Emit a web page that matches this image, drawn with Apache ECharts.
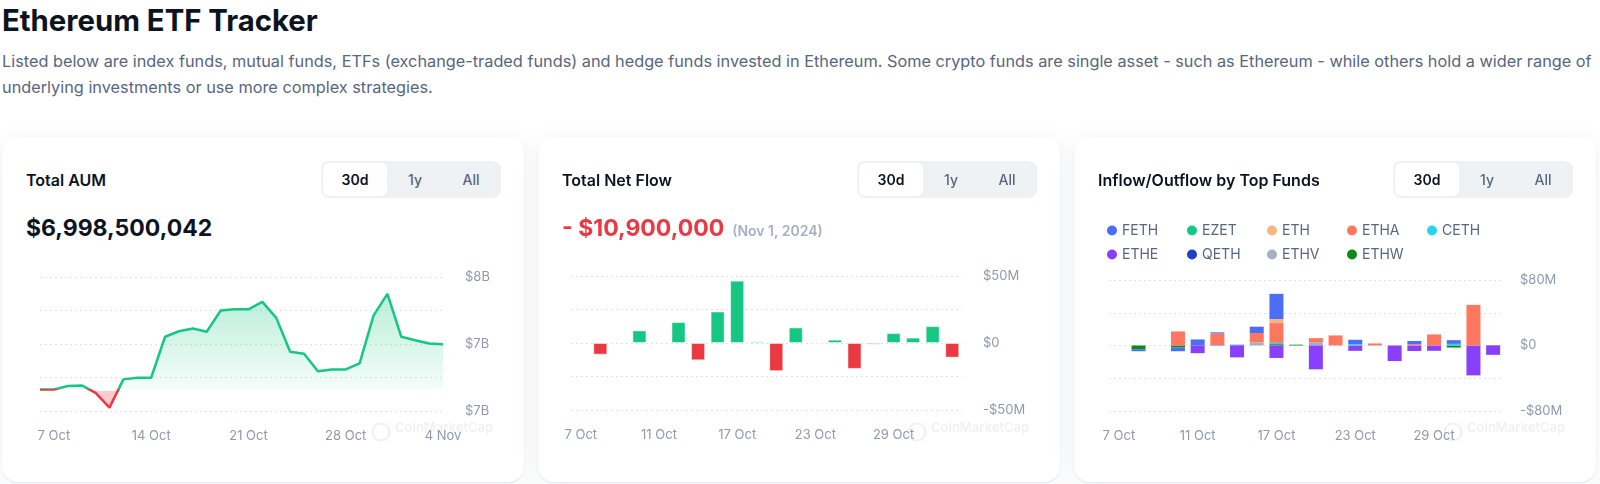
<!DOCTYPE html>
<html>
<head>
<meta charset="utf-8">
<title>Ethereum ETF Tracker</title>
<script src="https://cdn.jsdelivr.net/npm/echarts@6.0.0/dist/echarts.min.js"></script>
<style>
  body { margin: 0; width: 1600px; height: 484px; overflow: hidden; background: #fff; position: relative;
         font-family: Inter, "Noto Sans", sans-serif; color: #0d1421; }
  h1 { position: absolute; left: 2px; top: 2px; margin: 0; font-size: 29.3px; font-weight: 700; line-height: 38px; }
  .desc { position: absolute; left: 2px; top: 48px; margin: 0; font-size: 16.3px; line-height: 26px; color: #58667e; white-space: nowrap; }
  .card { position: absolute; top: 137px; width: 522px; height: 345px; background: #fff; border-radius: 16px;
          box-shadow: 0 1px 2px rgba(88, 102, 126, 0.12), 0 4px 24px rgba(88, 102, 126, 0.08); }
  .card-title { position: absolute; left: 24px; top: 32px; font-size: 16px; font-weight: 600; line-height: 22px; }
  .tabs { position: absolute; left: 319px; top: 24px; width: 176px; height: 33px; padding: 2px; background: #eff2f5;
          border-radius: 8px; display: flex; }
  .tabs span { width: 56px; text-align: center; line-height: 33px; font-size: 14px; font-weight: 500; color: #58667e; }
  .tabs span.on { width: 64px; background: #fff; border-radius: 6px; color: #0d1421; font-weight: 600; }
  .big { position: absolute; left: 24px; top: 76px; font-size: 23px; font-weight: 700; line-height: 30px; white-space: nowrap; }
  .big.neg { color: #ea3943; }
  .big small { font-size: 14px; font-weight: 600; color: #a6b0c3; margin-left: 8px; }
  .chart { position: absolute; left: 0; top: 80px; width: 522px; height: 265px; }
</style>
</head>
<body>
<h1>Ethereum ETF Tracker</h1>
<p class="desc">Listed below are index funds, mutual funds, ETFs (exchange-traded funds) and hedge funds invested in Ethereum. Some crypto funds are single asset - such as Ethereum - while others hold a wider range of<br>underlying investments or use more complex strategies.</p>

<div class="card" style="left: 2px;">
  <div class="card-title">Total AUM</div>
  <div class="tabs"><span class="on">30d</span><span>1y</span><span>All</span></div>
  <div class="big">$6,998,500,042</div>
  <div class="chart" id="aumChart"></div>
</div>

<div class="card" style="left: 538px;">
  <div class="card-title">Total Net Flow</div>
  <div class="tabs"><span class="on">30d</span><span>1y</span><span>All</span></div>
  <div class="big neg">- $10,900,000<small>(Nov 1, 2024)</small></div>
  <div class="chart" id="flowChart"></div>
</div>

<div class="card" style="left: 1074px;">
  <div class="card-title">Inflow/Outflow by Top Funds</div>
  <div class="tabs"><span class="on">30d</span><span>1y</span><span>All</span></div>
  <div class="chart" id="fundChart"></div>
</div>

<script>
// total AUM, one point a day (billions USD)
var aumDates = ['6 Oct', '7 Oct', '8 Oct', '9 Oct', '10 Oct', '11 Oct', '12 Oct', '13 Oct', '14 Oct', '15 Oct',
    '16 Oct', '17 Oct', '18 Oct', '19 Oct', '20 Oct', '21 Oct', '22 Oct', '23 Oct', '24 Oct', '25 Oct',
    '26 Oct', '27 Oct', '28 Oct', '29 Oct', '30 Oct', '31 Oct', '1 Nov', '2 Nov', '3 Nov', '4 Nov'];
var aumValues = [6.661, 6.661, 6.686, 6.691, 6.636, 6.525, 6.736, 6.748, 6.748, 7.054,
    7.095, 7.115, 7.091, 7.250, 7.259, 7.259, 7.314, 7.195, 6.942, 6.927,
    6.797, 6.810, 6.810, 6.855, 7.212, 7.374, 7.054, 7.028, 7.004, 6.9985];
var aumTicks = [6.5, 7, 7.5];

// trading days used by the two flow charts
var flowDates = ['7 Oct', '8 Oct', '9 Oct', '10 Oct', '11 Oct', '14 Oct', '15 Oct', '16 Oct', '17 Oct', '18 Oct',
    '21 Oct', '22 Oct', '23 Oct', '24 Oct', '25 Oct', '28 Oct', '29 Oct', '30 Oct', '31 Oct', '1 Nov'];
// total net flow (millions USD)
var netFlow = [null, -8.7, null, 9.4, null, 15.6, -12.9, 23.5, 46.5, 1.2,
    -21.0, 11.6, 0.6, 2.5, -19.3, -1.2, 7.4, 4.0, 12.6, -10.9];
var flowTicks = [-50, 0, 50];

// flows by fund (millions USD)
var fundNames = ['FETH', 'EZET', 'ETH', 'ETHA', 'CETH', 'ETHE', 'QETH', 'ETHV', 'ETHW'];
var feth = [null, -2.5, null, -4.5, 7.4, 1.2, 1.0, 7.8, 30.8, null, null, null, 5.5, null, null, 4.0, null, 4.5, null, 0.5];
var ezet = [null, null, null, null, null, null, null, null, null, null, null, null, null, null, null, null, null, null, null, null];
var eth = [null, null, null, null, null, null, null, null, 4.9, null, null, null, null, null, null, null, null, null, null, null];
var etha = [null, null, null, 17.2, null, 14.5, null, 11.5, 24.2, null, 4.9, 12.3, null, 2.5, null, 1.5, 13.5, null, 49.6, null];
var ceth = [null, null, null, null, null, null, null, null, 1.6, null, null, null, 1.5, null, null, null, null, 2.0, null, null];
var ethe = [null, null, null, null, -9.4, null, -14.5, null, -15.2, null, -29.1, null, -6.5, null, -19.0, -6.7, -6.5, null, -36.5, -11.4];
var qeth = [null, null, null, null, null, 0.4, null, null, null, null, null, null, null, null, null, null, null, null, null, null];
var ethv = [null, null, null, null, null, null, null, 3.7, null, null, 4.1, null, null, null, null, null, null, null, null, null];
var ethw = [null, -4.5, null, -2.5, null, null, null, null, 1.6, 1.0, null, null, null, null, null, null, null, -2.5, null, null];
var fundTicks = [-80, 0, 80];

var GREEN = '#16c784';
var RED = '#ea3943';
var LABEL = '#8f99ac';
var GRID = '#dfe3e9';
var fundColors = {
    FETH: '#4b6ef5', EZET: '#16c784', ETH: '#f7b680', ETHA: '#ff775f', CETH: '#22d6ee',
    ETHE: '#8a3ffc', QETH: '#1f3fcf', ETHV: '#a6b0c3', ETHW: '#0a8a16'
};

function money(v, unit) {
    if (v === 0) {
        return '$0';
    }
    return (v < 0 ? '-' : '') + '$' + Math.abs(v) + unit;
}

function watermark() {
    return [
        { type: 'circle', left: 368, top: 204, shape: { r: 8.5 }, style: { fill: 'none', stroke: '#eff1f4', lineWidth: 2 } },
        { type: 'text', left: 393, top: 205, style: { text: 'CoinMarketCap', fill: '#eff1f4', font: '600 13px Inter' } }
    ];
}

function xAxisOf(dates, gap, every) {
    return {
        type: 'category',
        data: dates,
        boundaryGap: gap,
        axisLine: { show: false },
        axisTick: { show: false },
        splitLine: { show: false },
        axisLabel: {
            color: LABEL,
            fontSize: 13,
            margin: 19,
            interval: every
        }
    };
}

function yAxisOf(min, max, step, ticks, unit, gap) {
    return {
        type: 'value',
        position: 'right',
        min: min,
        max: max,
        interval: step,
        axisLine: { show: false },
        axisTick: { show: false },
        splitLine: { lineStyle: { color: GRID, type: [2, 3], width: 1 } },
        axisLabel: {
            color: LABEL,
            fontSize: 13,
            margin: gap,
            formatter: function (v) {
                if (ticks.indexOf(v) < 0) {
                    return '';
                }
                return unit === 'B' ? '$' + Math.round(v) + 'B' : money(v, unit);
            }
        }
    };
}

function aumOption() {
    var base = aumValues[0];
    var high = Math.max.apply(null, aumValues);
    var low = Math.min.apply(null, aumValues);
    // where the start value falls inside the filled area, top to bottom
    var cut = (high - base) / (high - low) + 0.01;
    return {
        animation: false,
        textStyle: { fontFamily: 'Inter' },
        grid: { left: 38, top: 60, width: 403, height: 134 },
        xAxis: xAxisOf(aumDates, false, function (i) { return (i - 1) % 7 === 0; }),
        yAxis: yAxisOf(6.5, 7.5, 0.25, aumTicks, 'B', 22),
        visualMap: {
            show: false,
            type: 'piecewise',
            seriesIndex: 0,
            dimension: 1,
            pieces: [{ gte: 6.5, lt: base, color: RED }, { gte: base, lte: 7.5, color: GREEN }]
        },
        series: [{
            type: 'line',
            data: aumValues,
            showSymbol: false,
            lineStyle: { width: 2.5 },
            areaStyle: {
                origin: base,
                opacity: 1,
                color: new echarts.graphic.LinearGradient(0, 0, 0, 1, [
                    { offset: 0, color: 'rgba(22,199,132,0.30)' },
                    { offset: cut, color: 'rgba(22,199,132,0.04)' },
                    { offset: cut, color: 'rgba(234,57,67,0.26)' },
                    { offset: 1, color: 'rgba(234,57,67,0.26)' }
                ])
            }
        }],
        graphic: watermark()
    };
}

function flowOption() {
    return {
        animation: false,
        textStyle: { fontFamily: 'Inter' },
        grid: { left: 33, top: 59, width: 391, height: 134 },
        xAxis: xAxisOf(flowDates, true, function (i) { return i % 4 === 0; }),
        yAxis: yAxisOf(-50, 50, 25, flowTicks, 'M', 21),
        series: [{
            type: 'bar',
            data: netFlow,
            barWidth: 14,
            itemStyle: {
                color: function (p) { return p.value < 0 ? RED : GREEN; },
                borderColor: 'rgba(255,255,255,0.45)',
                borderWidth: 1
            }
        }],
        graphic: watermark()
    };
}

function fundOption() {
    var byName = { FETH: feth, EZET: ezet, ETH: eth, ETHA: etha, CETH: ceth, ETHE: ethe, QETH: qeth, ETHV: ethv, ETHW: ethw };
    // the last fund in the legend sits closest to zero
    var series = fundNames.slice().reverse().map(function (name) {
        return {
            name: name,
            type: 'bar',
            stack: 'funds',
            data: byName[name],
            barWidth: 14,
            itemStyle: { color: fundColors[name] }
        };
    });
    return {
        animation: false,
        textStyle: { fontFamily: 'Inter' },
        color: fundNames.map(function (n) { return fundColors[n]; }),
        legend: {
            data: fundNames,
            left: 33,
            top: 5,
            width: 395,
            padding: 0,
            itemGap: 7,
            itemWidth: 10,
            itemHeight: 10,
            icon: 'circle',
            selectedMode: false,
            textStyle: { color: '#58667e', fontSize: 14, width: 58, lineHeight: 17 }
        },
        grid: { left: 35, top: 63, width: 394, height: 131 },
        xAxis: xAxisOf(flowDates, true, function (i) { return i % 4 === 0; }),
        yAxis: yAxisOf(-80, 80, 40, fundTicks, 'M', 17),
        series: series,
        graphic: watermark()
    };
}

var aumChart = echarts.init(document.getElementById('aumChart'));
aumChart.setOption(aumOption());
var flowChart = echarts.init(document.getElementById('flowChart'));
flowChart.setOption(flowOption());
var fundChart = echarts.init(document.getElementById('fundChart'));
fundChart.setOption(fundOption());
</script>
</body>
</html>
